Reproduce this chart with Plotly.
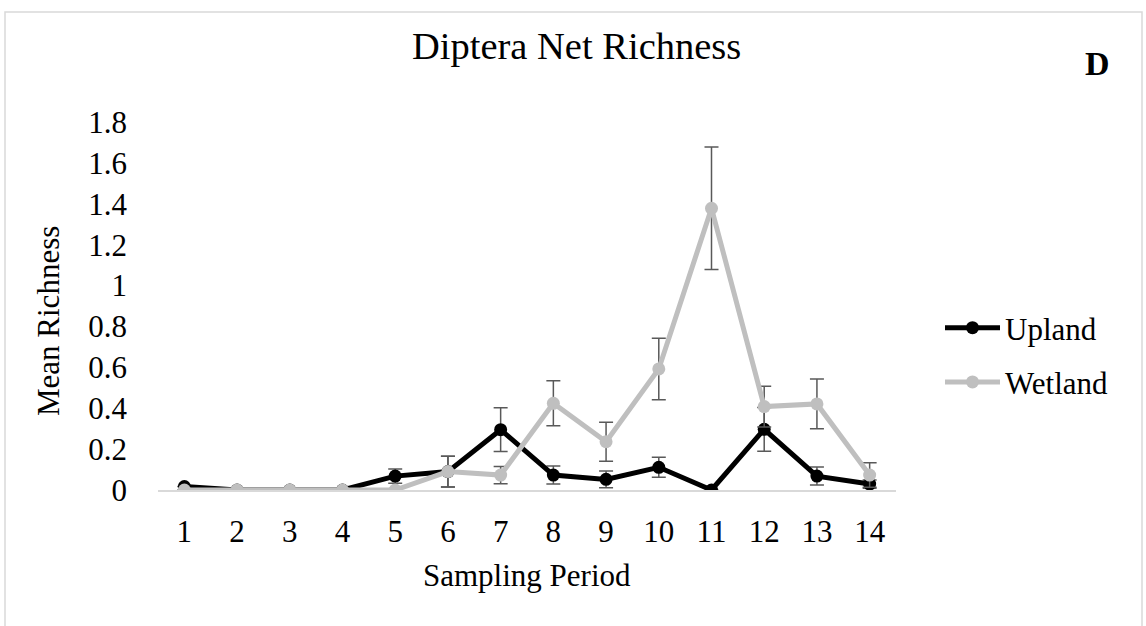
import plotly.graph_objects as go

# ---- data ----
periods = list(range(1, 15))
period_labels = [str(p) for p in periods]
upland = [0.017, 0, 0, 0, 0.068, 0.09, 0.295, 0.073, 0.052, 0.111, 0, 0.297, 0.068, 0.029]
upland_err = [None, None, None, None, 0.035, 0.075, 0.107, 0.044, 0.041, 0.049, None, 0.107, 0.044, 0.02]
wetland = [0, 0, 0, 0, 0, 0.09, 0.073, 0.424, 0.236, 0.592, 1.378, 0.408, 0.421, 0.073]
wetland_err = [None, None, None, None, None, 0.075, 0.042, 0.11, 0.095, 0.15, 0.3, 0.1, 0.122, 0.06]
y_ticks = [0, 0.2, 0.4, 0.6, 0.8, 1.0, 1.2, 1.4, 1.6, 1.8]
y_tick_labels = ["0", "0.2", "0.4", "0.6", "0.8", "1", "1.2", "1.4", "1.6", "1.8"]

# ---- layout geometry (pixels) ----
W, H = 1146, 626
L, R, T, B = 158, 250, 122, 136
PW, PH = W - L - R, H - T - B


def px(x):
    return (x - L) / PW


def py(y):
    return (H - B - y) / PH


FONT = "Liberation Serif, Times New Roman, serif"
ERR = "#595959"

fig = go.Figure()
fig.add_trace(go.Scatter(
    x=periods, y=upland, name="Upland", mode="lines+markers",
    line=dict(color="#000000", width=5),
    marker=dict(color="#000000", size=13),
    error_y=dict(type="data", array=upland_err, visible=True, color=ERR, thickness=1.5, width=7),
    legendgroup="u",
))
fig.add_trace(go.Scatter(
    x=periods, y=wetland, name="Wetland", mode="lines+markers",
    line=dict(color="#BFBFBF", width=5),
    marker=dict(color="#BFBFBF", size=13),
    error_y=dict(type="data", array=wetland_err, visible=True, color=ERR, thickness=1.5, width=7),
    legendgroup="w",
))

fig.update_layout(
    width=W, height=H,
    margin=dict(l=L, r=R, t=T, b=B, autoexpand=False),
    paper_bgcolor="white", plot_bgcolor="white",
    font=dict(family=FONT, color="#000000", size=31),
    showlegend=True,
    legend=dict(x=px(940), y=py(355), xanchor="left", yanchor="middle",
                font=dict(size=31, family=FONT), tracegroupgap=11, itemwidth=55,
                bgcolor="rgba(0,0,0,0)"),
    xaxis=dict(range=[0.5, 14.5], tickmode="array", tickvals=periods, ticktext=period_labels,
               showline=True, linecolor="#D9D9D9", linewidth=1.5, showgrid=False, zeroline=False,
               ticks="", tickfont=dict(size=31), ticklabelstandoff=13, fixedrange=True),
    yaxis=dict(range=[0, 1.8], tickmode="array", tickvals=y_ticks, ticktext=y_tick_labels,
               showline=False, showgrid=False, zeroline=False, ticks="",
               tickfont=dict(size=31), ticklabelstandoff=30, fixedrange=True),
    shapes=[dict(type="rect", xref="paper", yref="paper",
                 x0=px(5), x1=px(1142), y0=py(640), y1=py(12),
                 line=dict(color="#D9D9D9", width=1.5), fillcolor="rgba(0,0,0,0)", layer="below")],
    annotations=[
        dict(text="Diptera Net Richness", xref="paper", yref="paper", x=px(576), y=py(46),
             xanchor="center", yanchor="middle", showarrow=False, font=dict(size=38.5, family=FONT)),
        dict(text="<b>D</b>", xref="paper", yref="paper", x=px(1097), y=py(63),
             xanchor="center", yanchor="middle", showarrow=False, font=dict(size=34, family=FONT)),
        dict(text="Sampling Period", xref="paper", yref="paper", x=px(527), y=py(575),
             xanchor="center", yanchor="middle", showarrow=False, font=dict(size=31, family=FONT)),
        dict(text="Mean Richness", xref="paper", yref="paper", x=px(48), y=py(321),
             xanchor="center", yanchor="middle", showarrow=False, textangle=-90,
             font=dict(size=31, family=FONT)),
    ],
)

fig.write_html("out.html")
